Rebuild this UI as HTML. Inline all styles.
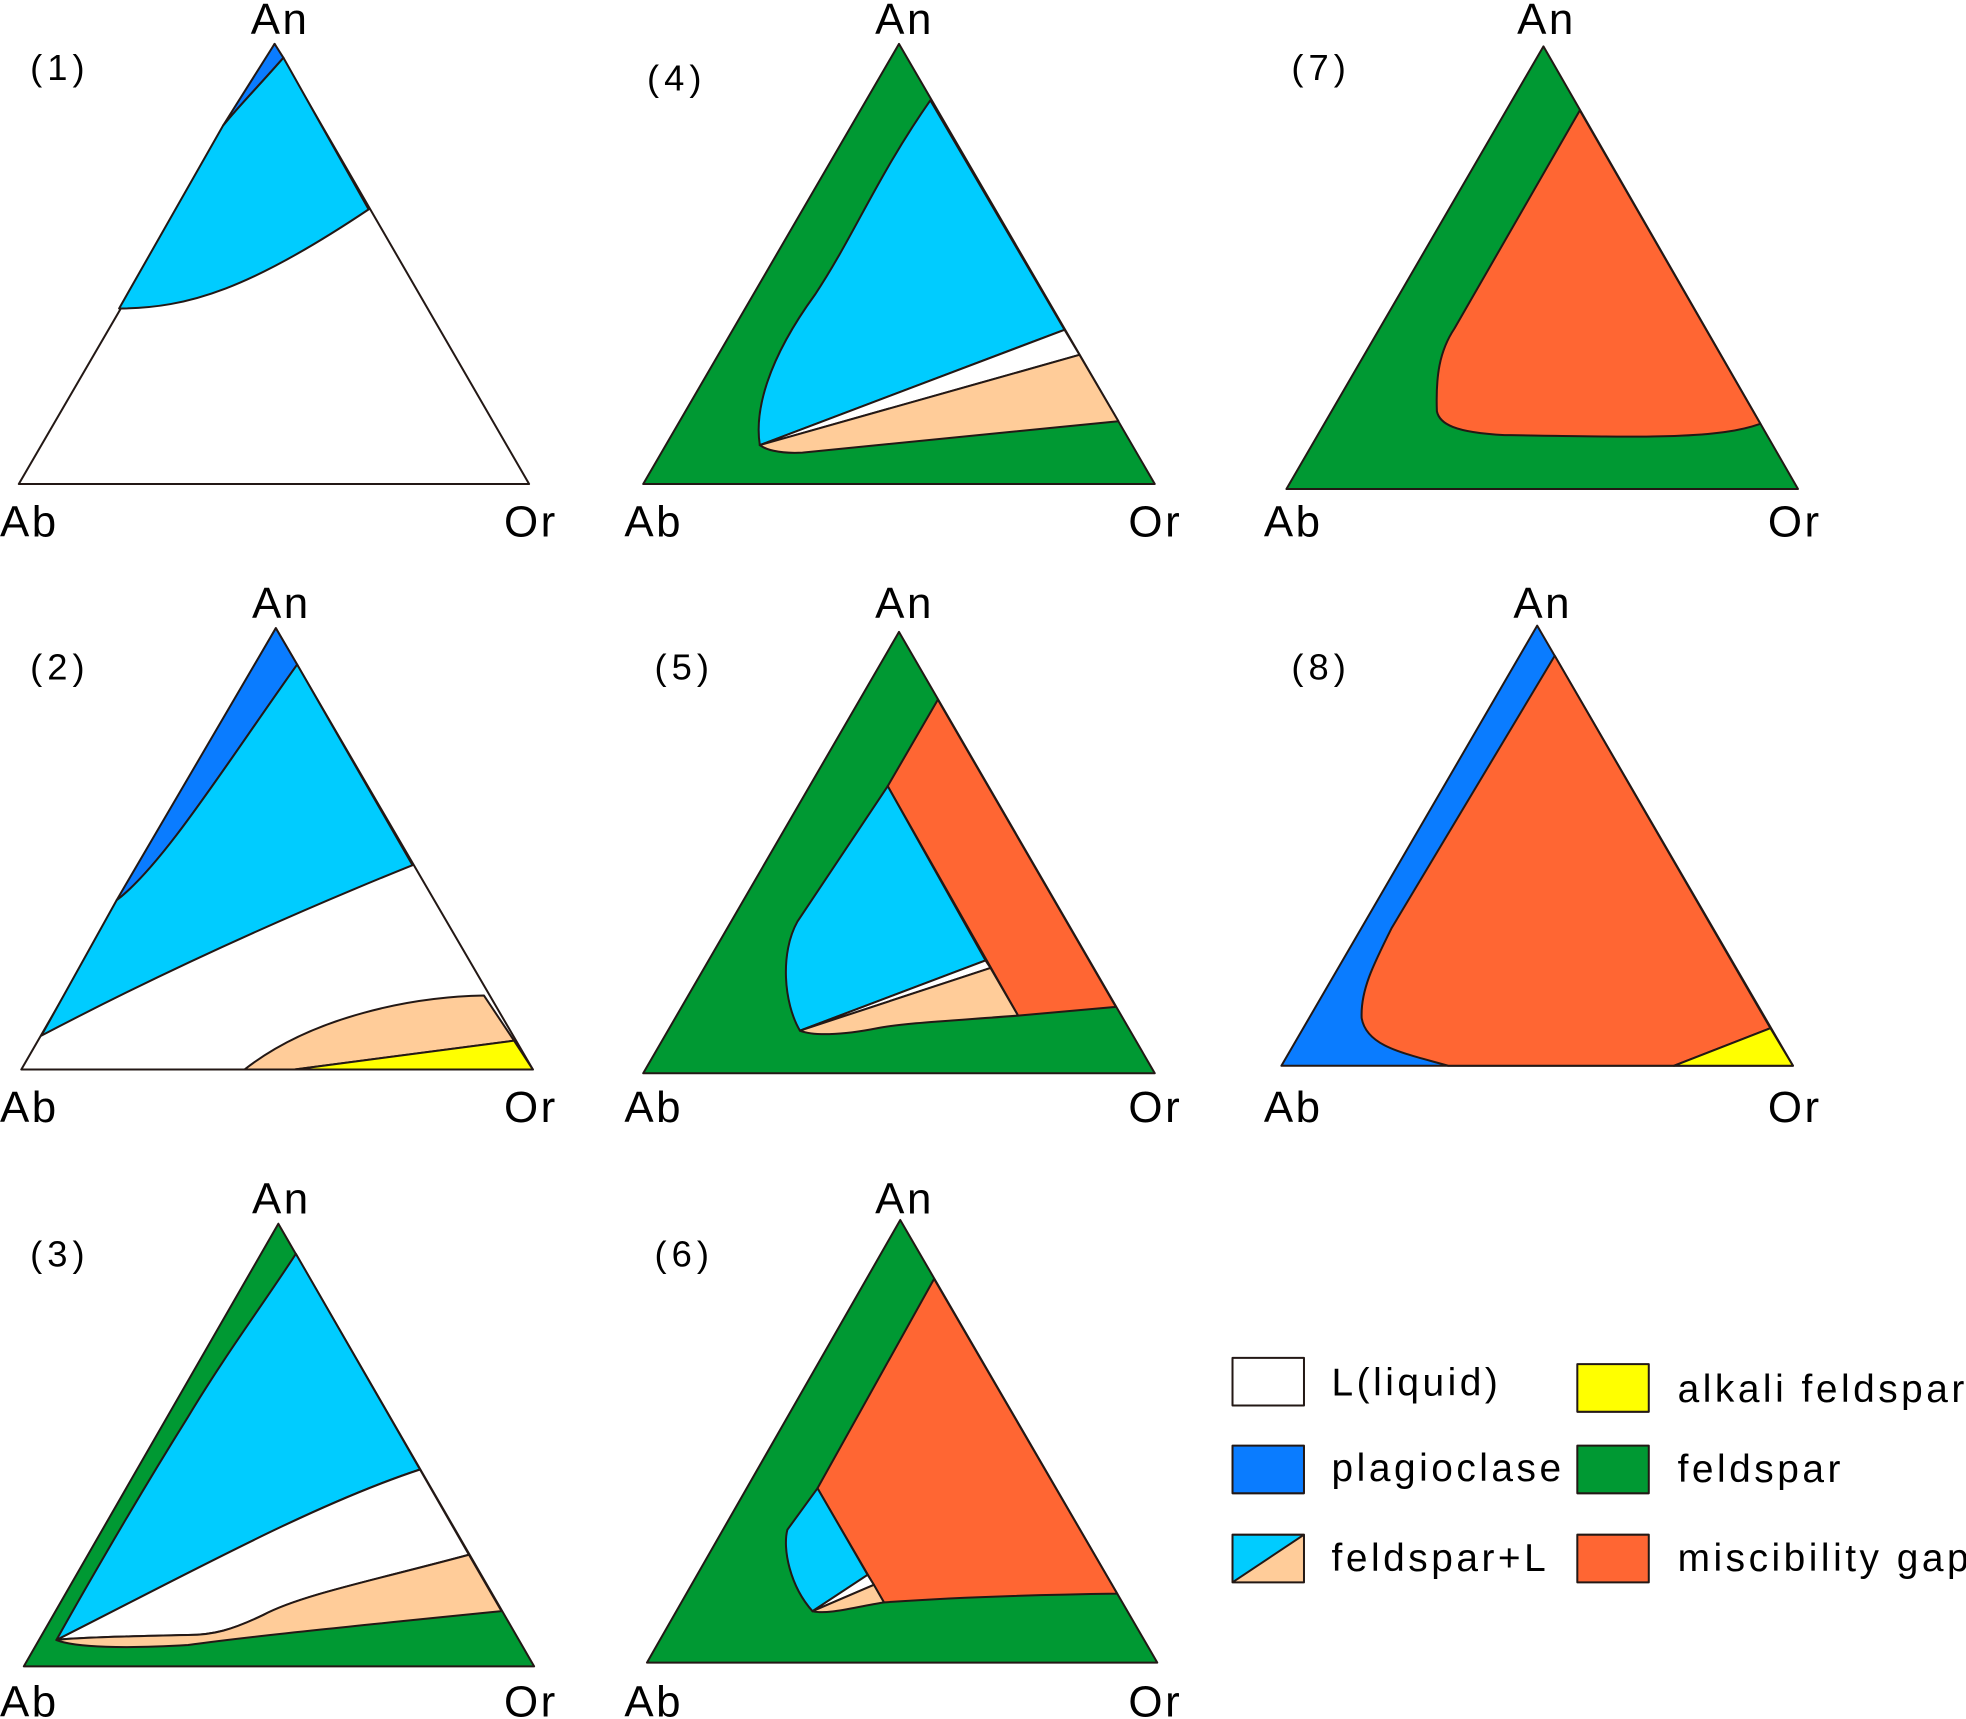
<!DOCTYPE html>
<html><head><meta charset="utf-8"><style>
html,body{margin:0;padding:0;background:#fff;}
svg{display:block;}
text{font-family:"Liberation Sans",Arial,sans-serif;fill:#000;}
.t{font-size:35px;letter-spacing:2px;}
.n{font-size:29px;letter-spacing:4px;}
.l{font-size:31px;letter-spacing:2.8px;}
path,polygon,rect{stroke:#231815;stroke-width:1.6;stroke-linejoin:round;}
</style></head><body>
<svg width="1966" height="1719" viewBox="0 0 1568 1371" preserveAspectRatio="none">
<g>
<polygon points="15,386 422,386 219,35" fill="#fff"/>
<path d="M178,100 L95,246 C150,246 200,230 294,167 L226,46 C205,70 190,85 178,100Z" fill="#00CCFF"/>
<path d="M219,35 L178,100 C190,85 205,70 226,46Z" fill="#0A7CFF"/>
<text class="t" x="200" y="27">An</text><text class="t" x="0" y="428">Ab</text><text class="t" x="402" y="428">Or</text>
<text class="n" x="24" y="64">(1)</text>
</g>
<g>
<polygon points="513,386 921,386 717,35" fill="#009933"/>
<path d="M742,80 L849,263 L606,355 C602,330 610,290 650,235 C680,190 700,140 742,80Z" fill="#00CCFF"/>
<path d="M606,355 L849,263 L861,283Z" fill="#fff"/>
<path d="M606,355 L861,283 L892,336 C800,345 700,355 640,361 C620,362 610,358 606,355Z" fill="#FFCC99"/>
<text class="t" x="698" y="27">An</text><text class="t" x="498" y="428">Ab</text><text class="t" x="900" y="428">Or</text>
<text class="n" x="516" y="72">(4)</text>
</g>
<g>
<polygon points="1026,390 1434,390 1231,37" fill="#009933"/>
<path d="M1260,88 L1404,338 C1370,350 1320,349 1200,347 C1160,345 1148,338 1146,328 C1145,300 1148,280 1160,262Z" fill="#FF6633"/>
<text class="t" x="1210" y="27">An</text><text class="t" x="1008" y="428">Ab</text><text class="t" x="1410" y="428">Or</text>
<text class="n" x="1030" y="64">(7)</text>
</g>
<g>
<polygon points="17,853 425,853 220,501" fill="#fff"/>
<path d="M220,501 L93,718 C130,690 180,610 237,530Z" fill="#0A7CFF"/>
<path d="M93,718 L33,826 C130,775 230,730 329,690 L237,530 C180,610 130,690 93,718Z" fill="#00CCFF"/>
<path d="M195,853 C250,810 330,795 386,794 L410,830 L235,853Z" fill="#FFCC99"/>
<path d="M235,853 L410,830 L425,853Z" fill="#FFFF00"/>
<text class="t" x="201" y="493">An</text><text class="t" x="0" y="895">Ab</text><text class="t" x="402" y="895">Or</text>
<text class="n" x="24" y="542">(2)</text>
</g>
<g>
<polygon points="513,856 921,856 717,504" fill="#009933"/>
<path d="M748,558 L890,803 L812,810 L708,627Z" fill="#FF6633"/>
<path d="M708,627 L786,766 L638,822 C625,800 622,760 636,735Z" fill="#00CCFF"/>
<path d="M638,822 L786,766 L790,772Z" fill="#fff"/>
<path d="M638,822 L790,772 L812,810 C760,814 720,816 700,820 C670,826 648,826 638,822Z" fill="#FFCC99"/>
<text class="t" x="698" y="493">An</text><text class="t" x="498" y="895">Ab</text><text class="t" x="900" y="895">Or</text>
<text class="n" x="522" y="542">(5)</text>
</g>
<g>
<polygon points="1022,850 1430,850 1226,499" fill="#0A7CFF"/>
<path d="M1240,523 L1412,820 L1335,850 L1155,850 C1120,840 1090,835 1086,812 C1085,790 1095,770 1110,740Z" fill="#FF6633"/>
<path d="M1335,850 L1412,820 L1430,850Z" fill="#FFFF00"/>
<text class="t" x="1207" y="493">An</text><text class="t" x="1008" y="895">Ab</text><text class="t" x="1410" y="895">Or</text>
<text class="n" x="1030" y="542">(8)</text>
</g>
<g>
<polygon points="19,1329 426,1329 222,976" fill="#009933"/>
<path d="M236,1000 L335,1172 C250,1200 150,1255 45,1308 C55,1290 100,1210 150,1130 C180,1080 210,1040 236,1000Z" fill="#00CCFF"/>
<path d="M45,1308 C150,1255 250,1200 335,1172 L374,1240 C300,1260 240,1272 210,1288 C185,1300 170,1304 150,1304 C100,1305 60,1306 45,1308Z" fill="#fff"/>
<path d="M45,1308 C60,1306 100,1305 150,1304 C170,1304 185,1300 210,1288 C240,1272 300,1260 374,1240 L400,1285 C300,1295 200,1305 150,1312 C100,1315 60,1314 45,1308Z" fill="#FFCC99"/>
<text class="t" x="201" y="968">An</text><text class="t" x="0" y="1369">Ab</text><text class="t" x="402" y="1369">Or</text>
<text class="n" x="24" y="1010">(3)</text>
</g>
<g>
<polygon points="516,1326 923,1326 718,973" fill="#009933"/>
<path d="M745,1020 L891,1271 C820,1272 760,1274 705,1278 L652,1187Z" fill="#FF6633"/>
<path d="M652,1187 L692,1256 L648,1285 C630,1265 624,1235 628,1220Z" fill="#00CCFF"/>
<path d="M648,1285 L692,1256 L697,1264Z" fill="#fff"/>
<path d="M648,1285 L697,1264 L705,1278 C680,1282 660,1288 648,1285Z" fill="#FFCC99"/>
<text class="t" x="698" y="968">An</text><text class="t" x="498" y="1369">Ab</text><text class="t" x="900" y="1369">Or</text>
<text class="n" x="522" y="1010">(6)</text>
</g>
<g>
<rect x="983" y="1083" width="57" height="38" fill="#fff"/>
<text class="l" x="1062" y="1113">L(liquid)</text>
<rect x="983" y="1153" width="57" height="38" fill="#0A7CFF"/>
<text class="l" x="1062" y="1181">plagioclase</text>
<g>
<polygon points="983,1224 1040,1224 983,1262" fill="#00CCFF" style="stroke:none"/>
<polygon points="1040,1224 1040,1262 983,1262" fill="#FFCC99" style="stroke:none"/>
<rect x="983" y="1224" width="57" height="38" fill="none"/>
<path d="M983,1262 L1040,1224" fill="none"/>
</g>
<text class="l" x="1062" y="1253">feldspar+L</text>
<rect x="1258" y="1088" width="57" height="38" fill="#FFFF00"/>
<text class="l" x="1338" y="1118">alkali feldspar</text>
<rect x="1258" y="1153" width="57" height="38" fill="#009933"/>
<text class="l" x="1338" y="1182">feldspar</text>
<rect x="1258" y="1224" width="57" height="38" fill="#FF6633"/>
<text class="l" x="1338" y="1253">miscibility gap</text>
</g>
</svg>
</body></html>
